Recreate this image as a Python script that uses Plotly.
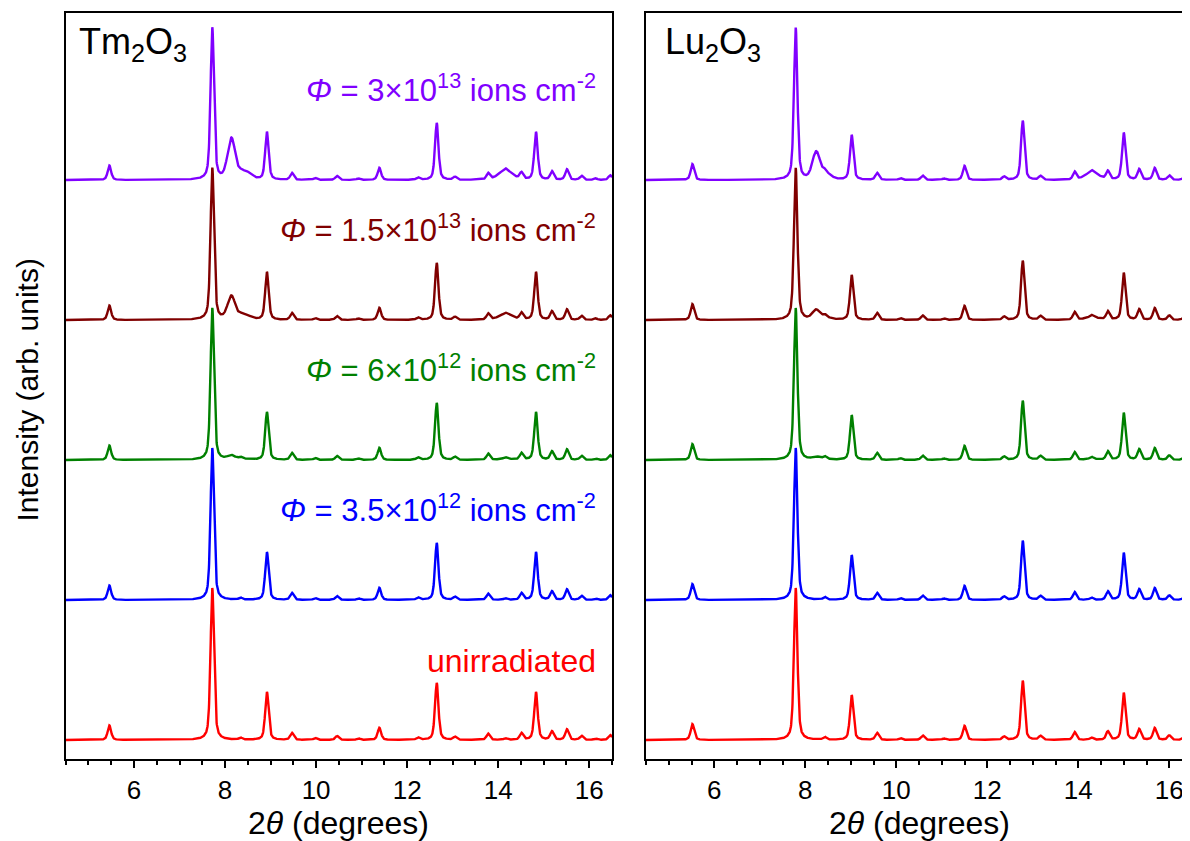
import numpy as np
import plotly.graph_objects as go

# ---------------- data ----------------
series_labels = [
    "unirradiated",
    "<i>Φ</i> = 3.5×10<sup>12</sup> ions cm<sup>-2</sup>",
    "<i>Φ</i> = 6×10<sup>12</sup> ions cm<sup>-2</sup>",
    "<i>Φ</i> = 1.5×10<sup>13</sup> ions cm<sup>-2</sup>",
    "<i>Φ</i> = 3×10<sup>13</sup> ions cm<sup>-2</sup>",
]
series_colors = ["#FF0000", "#0000FF", "#008000", "#800000", "#8000FF"]
offset_step = 92.1  # vertical offset between stacked patterns (% of main peak)

# Tm2O3: crystalline (bixbyite) reflections, 2theta (deg) and height (% of main)
tm_peak_pos = [5.46, 7.72, 8.34, 8.92, 9.47, 9.98, 10.46, 10.93, 11.39, 12.24, 12.65,
               13.05, 13.78, 14.16, 14.51, 14.83, 15.18, 15.51, 15.83, 16.14, 16.46]
tm_peak_height = [9.5, 100, 1.3, 31.5, 4.6, 1.3, 2.6, 1.0, 8.0, 1.6, 37.5,
                  2.0, 4.2, 1.0, 4.5, 31.5, 5.6, 7.0, 2.8, 1.0, 3.2]
# Tm2O3: irradiation-induced broad features
tm_broad_pos = [8.14, 8.45, 14.16]
tm_broad_height = [27.0, 5.0, 6.5]
tm_broad_width = [0.20, 0.28, 0.35]
tm_damage_level = [0.0, 0.0, 0.1, 0.57, 1.0]

# Lu2O3: crystalline reflections
lu_peak_pos = [5.52, 7.79, 8.43, 9.02, 9.58, 10.09, 10.58, 11.05, 11.50, 12.37, 12.78,
               13.17, 13.92, 14.29, 14.65, 15.00, 15.34, 15.68, 16.00, 16.33]
lu_peak_height = [10.5, 100, 1.8, 29.5, 4.6, 1.2, 3.0, 1.0, 9.3, 2.2, 39.0,
                  2.6, 5.2, 1.5, 5.6, 31.0, 7.0, 7.8, 3.0, 1.8]
lu_broad_pos = [8.24, 8.47, 14.30]
lu_broad_height = [18.0, 3.5, 5.0]
lu_broad_width = [0.20, 0.25, 0.35]
lu_damage_level = [0.0, 0.0, 0.1, 0.35, 1.0]

crystal_fwhm = 0.09
x_range_left = [4.5, 16.5]
x_range_right = [4.5, 16.456]
two_theta = np.linspace(4.5, 16.5, 2401)


def pseudo_voigt(x, center, fwhm, eta=0.5):
    d = (x - center) / fwhm
    lor = 1.0 / (1.0 + 4.0 * d * d)
    gau = np.exp(-4.0 * np.log(2.0) * d * d)
    return eta * lor + (1 - eta) * gau


def pattern(pos, height, bpos, bheight, bwidth, damage):
    y = np.zeros_like(two_theta)
    for p, h in zip(pos, height):
        y += h * pseudo_voigt(two_theta, p, crystal_fwhm)
    for p, h, w in zip(bpos, bheight, bwidth):
        y += damage * h * pseudo_voigt(two_theta, p, w, eta=0.3)
    return y


fig = go.Figure()
panels = [
    ("x", "y", tm_peak_pos, tm_peak_height, tm_broad_pos, tm_broad_height, tm_broad_width, tm_damage_level),
    ("x2", "y2", lu_peak_pos, lu_peak_height, lu_broad_pos, lu_broad_height, lu_broad_width, lu_damage_level),
]
for xa, ya, pos, hgt, bpos, bh, bw, dmg in panels:
    for i, (col, lvl) in enumerate(zip(series_colors, dmg)):
        y = pattern(pos, hgt, bpos, bh, bw, lvl) + i * offset_step
        fig.add_trace(go.Scatter(x=two_theta, y=y, mode="lines", xaxis=xa, yaxis=ya,
                                 line=dict(color=col, width=2.4), showlegend=False,
                                 hoverinfo="skip"))

# page body has an 8px margin: figure coords = screen coords - 8
OFF = 8
W, H = 1190 - OFF, 841 - OFF
font_family = "Liberation Sans, Arial, sans-serif"
yr = [-12.5, 478.3]


def fx(xs):
    return (xs - OFF) / W


def fy(ys):
    return 1 - (ys - OFF) / H


xdom_left = [fx(65.7), fx(612)]
xdom_right = [fx(646), 1.0]
ydom = [fy(759), fy(13)]

common_x = dict(showline=True, linecolor="black", linewidth=2, ticks="outside",
                ticklen=7, tickwidth=2, tickcolor="black", dtick=2, tick0=0,
                minor=dict(dtick=0.5, ticks="outside", ticklen=4, tickwidth=2, tickcolor="black"),
                showgrid=False, zeroline=False,
                tickfont=dict(size=26, color="black", family=font_family))
common_y = dict(showline=True, linecolor="black", linewidth=2, ticks="",
                showticklabels=False, showgrid=False, zeroline=False, range=yr, domain=ydom)

fig.update_layout(
    width=W, height=H, margin=dict(l=0, r=0, t=0, b=0),
    paper_bgcolor="white", plot_bgcolor="white",
    font=dict(family=font_family, color="black"),
    xaxis=dict(domain=xdom_left, range=x_range_left, mirror=True, anchor="y", **common_x),
    yaxis=dict(anchor="x", mirror=True, **common_y),
    xaxis2=dict(domain=xdom_right, range=x_range_right, mirror=True, anchor="y2", **common_x),
    yaxis2=dict(anchor="x2", mirror=False, **common_y),
)

ann = []
ann.append(dict(text="Tm<sub>2</sub>O<sub>3</sub>", x=fx(77), y=fy(44), xref="paper", yref="paper",
                xanchor="left", yanchor="middle", showarrow=False,
                font=dict(size=36, color="black", family=font_family)))
ann.append(dict(text="Lu<sub>2</sub>O<sub>3</sub>", x=fx(663), y=fy(44), xref="paper", yref="paper",
                xanchor="left", yanchor="middle", showarrow=False,
                font=dict(size=36, color="black", family=font_family)))
label_y = [661, 508, 368, 228, 88]
label_size = [32, 31, 31, 31, 31]
for txt, col, ly, ls in zip(series_labels, series_colors, label_y, label_size):
    ann.append(dict(text=txt, x=fx(598), y=fy(ly), xref="paper", yref="paper",
                    xanchor="right", yanchor="middle", showarrow=False,
                    font=dict(size=ls, color=col, family=font_family)))
for cx in [(65.7 + 612) / 2, (646 + 1192) / 2]:
    ann.append(dict(text="2<i>θ</i> (degrees)", x=fx(cx), y=fy(823), xref="paper", yref="paper",
                    xanchor="center", yanchor="middle", showarrow=False,
                    font=dict(size=32, color="black", family=font_family)))
ann.append(dict(text="Intensity (arb. units)", x=0, y=fy(390), xref="paper", yref="paper",
                xanchor="left", yanchor="middle", textangle=-90, showarrow=False,
                font=dict(size=30, color="black", family=font_family)))
fig.update_layout(annotations=ann)

fig.write_html("out.html")
